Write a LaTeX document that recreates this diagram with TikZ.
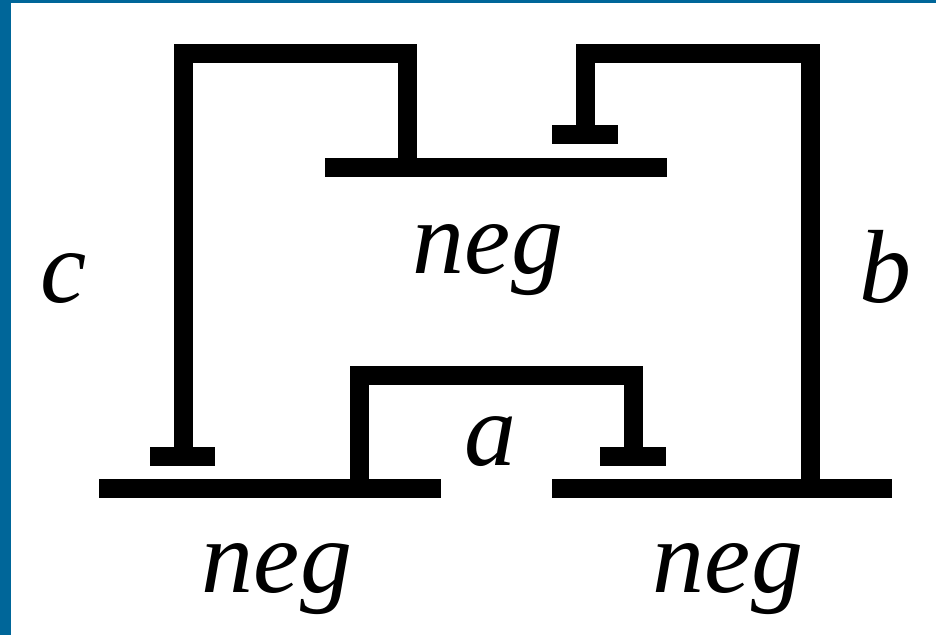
\documentclass[tikz,border=0pt]{standalone}
\usepackage{fontspec}
\setmainfont{Liberation Serif}
\definecolor{frameblue}{HTML}{006699}
\tikzset{
  wire/.style={line width=19pt, line cap=butt, line join=miter},
  barline/.style={line width=19pt, line cap=butt},
  lab/.style={anchor=base, inner sep=0pt, font=\fontsize{104}{110}\selectfont\itshape}
}
\begin{document}
\begin{tikzpicture}[x=1pt,y=-1pt]
\useasboundingbox (0,0) rectangle (936,635);
\fill[white] (0,0) rectangle (936,635);
\fill[frameblue] (0,0) rectangle (11,635);
\fill[frameblue] (0,0) rectangle (936,3);
% bars
\coordinate (bl1) at (99,488);  \coordinate (bl2) at (441,488);
\coordinate (br1) at (552,488); \coordinate (br2) at (892,488);
\coordinate (t1) at (325,167);  \coordinate (t2) at (667,167);
% stubs
\coordinate (sc1) at (150,456); \coordinate (sc2) at (215,456); \coordinate (sc) at (183,456);
\coordinate (sa1) at (600,456); \coordinate (sa2) at (666,456); \coordinate (sa) at (633,456);
\coordinate (sb1) at (552,134); \coordinate (sb2) at (618,134); \coordinate (sb) at (585,134);
% wire ends on bars
\coordinate (tin) at (407,167);
\coordinate (brin) at (810,488);
\coordinate (blin) at (359,488);
\draw[barline] (bl1) -- (bl2);
\draw[barline] (br1) -- (br2);
\draw[barline] (t1) -- (t2);
\draw[barline] (sc1) -- (sc2);
\draw[barline] (sa1) -- (sa2);
\draw[barline] (sb1) -- (sb2);
% wires
\draw[wire] (sc) -- (183,53) -- (407,53) -- (tin);
\draw[wire] (sb) -- (585,53) -- (810,53) -- (brin);
\draw[wire] (blin) -- (359,375) -- (633,375) -- (sa);
% labels
\node[lab] (negT) at (488,273) {neg};
\node[lab] (negL) at (277,592) {neg};
\node[lab] (negR) at (728,592) {neg};
\node[lab] (lc) at (64,302) {c};
\node[lab] (lb) at (885,302) {b};
\node[lab] (la) at (490,465) {a};
\end{tikzpicture}
\end{document}
